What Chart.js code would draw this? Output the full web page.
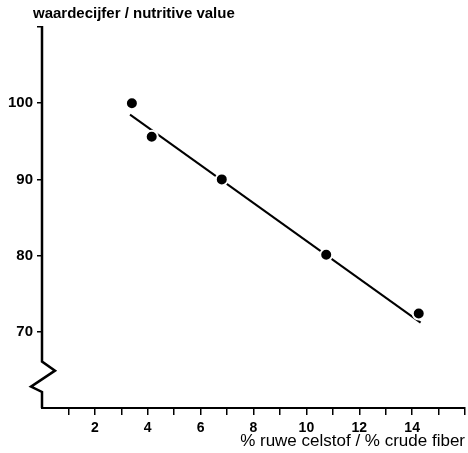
<!DOCTYPE html>
<html>
<head>
<meta charset="utf-8">
<script src="https://cdn.jsdelivr.net/npm/chart.js@4.4.0/dist/chart.umd.min.js"></script>
<style>
    html, body { margin: 0; padding: 0; background: #fff; overflow: hidden; }
    canvas { display: block; }
</style>
</head>
<body>
<canvas id="fiberChart" width="468" height="453"></canvas>
<script>
const crudeFiber = [3.4, 4.15, 6.8, 10.75, 14.25];
const nutritiveValue = [100, 95.6, 90, 80.1, 72.4];
const fitFiber = [3.33, 14.32];
const fitValue = [98.5, 71.2];
const xTickLabels = [2, 4, 6, 8, 10, 12, 14];
const yTickLabels = [70, 80, 90, 100];
const yTitle = "waardecijfer / nutritive value";
const xTitle = "% ruwe celstof / % crude fiber";

const labelFont = "'Liberation Sans', Arial, sans-serif";

// y axis with the zigzag break near the bottom, plus the title on top
const axisBreak = {
    id: "axisBreak",
    afterDraw(chart) {
        const ctx = chart.ctx;
        const x = chart.scales.x.getPixelForValue(0);
        const y = chart.scales.y;
        ctx.save();
        ctx.strokeStyle = "#000";
        ctx.lineWidth = 2.5;
        ctx.beginPath();
        ctx.moveTo(x, y.getPixelForValue(110) - 1);
        ctx.lineTo(x, y.getPixelForValue(66.1));
        ctx.lineTo(x + 13, y.getPixelForValue(64.9));
        ctx.lineTo(x - 11, y.getPixelForValue(62.8));
        ctx.lineTo(x, y.getPixelForValue(62.1));
        ctx.lineTo(x, y.getPixelForValue(60));
        ctx.stroke();

        ctx.font = "bold 15px " + labelFont;
        ctx.fillStyle = "#000";
        ctx.textBaseline = "middle";
        ctx.fillText(yTitle, x - 9, 14);
        ctx.restore();
    }
};

let ctx = document.getElementById("fiberChart").getContext("2d");
let fiberChart = new Chart(ctx, {
    type: "scatter",
    data: {
        datasets: [
            {
                data: crudeFiber.map((v, i) => ({ x: v, y: nutritiveValue[i] })),
                backgroundColor: "#000",
                borderColor: "#fff",
                borderWidth: 2,
                pointRadius: 6,
            },
            {
                data: fitFiber.map((v, i) => ({ x: v, y: fitValue[i] })),
                showLine: true,
                borderColor: "#000",
                borderWidth: 2,
                pointRadius: 0,
            },
        ],
    },
    options: {
        responsive: false,
        animation: false,
        layout: {
            autoPadding: false,
            padding: { top: 27, right: 3, left: 0, bottom: 0 },
        },
        plugins: {
            legend: { display: false },
            tooltip: { enabled: false },
        },
        scales: {
            x: {
                type: "linear",
                min: 0,
                max: 16,
                afterFit: s => {
                    s.height = 45;
                    s.paddingLeft = 0;
                    s.paddingRight = 0;
                },
                border: { display: true, color: "#000", width: 2 },
                grid: {
                    drawOnChartArea: false,
                    tickLength: 7,
                    lineWidth: 1.5,
                    tickColor: c => c.tick && c.tick.value === 0 ? "rgba(0,0,0,0)" : "#000",
                },
                ticks: {
                    stepSize: 1,
                    autoSkip: false,
                    maxRotation: 0,
                    padding: 0,
                    color: "#000",
                    font: { family: labelFont, size: 14, weight: "bold", lineHeight: 1.9 },
                    callback: v => xTickLabels.includes(v) ? String(v) : "",
                },
                title: {
                    display: true,
                    text: xTitle,
                    align: "end",
                    color: "#000",
                    padding: { top: 0, bottom: 1 },
                    font: { family: labelFont, size: 17 },
                },
            },
            y: {
                type: "linear",
                min: 60,
                max: 110,
                afterFit: s => { s.width = 42; },
                border: { display: false },
                grid: {
                    drawOnChartArea: false,
                    tickLength: 5,
                    lineWidth: 1.5,
                    tickColor: c => c.tick && c.tick.value === 60 ? "rgba(0,0,0,0)" : "#000",
                },
                ticks: {
                    stepSize: 10,
                    padding: 4,
                    color: "#000",
                    font: { family: labelFont, size: 15, weight: "bold" },
                    callback: v => yTickLabels.includes(v) ? String(v) : "",
                },
            },
        },
    },
    plugins: [axisBreak],
});
</script>
</body>
</html>
